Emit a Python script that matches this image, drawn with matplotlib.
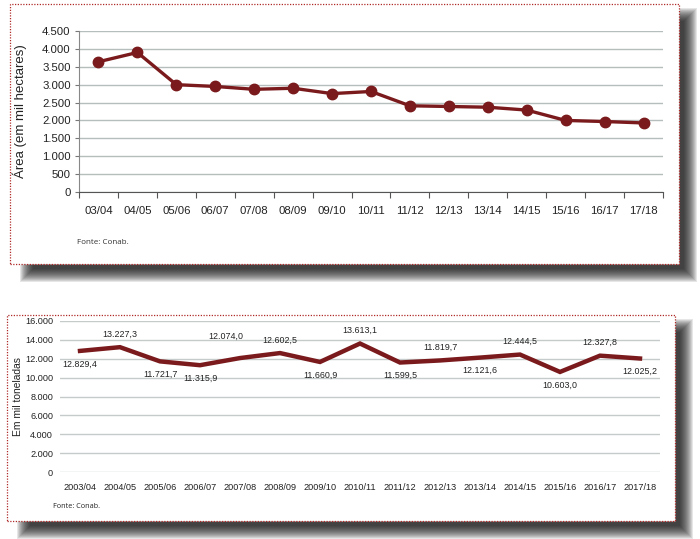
import matplotlib
matplotlib.use("Agg")
import matplotlib.pyplot as plt
from matplotlib.patches import Rectangle

plt.rcParams['font.family'] = ['Liberation Sans', 'DejaVu Sans']

# top chart: area
safras_area = ["03/04", "04/05", "05/06", "06/07", "07/08", "08/09", "09/10", "10/11",
               "11/12", "12/13", "13/14", "14/15", "15/16", "16/17", "17/18"]
area = [3640, 3900, 3000, 2950, 2870, 2900, 2750, 2810,
        2410, 2390, 2370, 2290, 2000, 1970, 1930]
area_ticks = [0, 500, 1000, 1500, 2000, 2500, 3000, 3500, 4000, 4500]

# bottom chart: production
safras_prod = ["2003/04", "2004/05", "2005/06", "2006/07", "2007/08", "2008/09", "2009/10",
               "2010/11", "2011/12", "2012/13", "2013/14", "2014/15", "2015/16", "2016/17",
               "2017/18"]
producao = [12829.4, 13227.3, 11721.7, 11315.9, 12074.0, 12602.5, 11660.9,
            13613.1, 11599.5, 11819.7, 12121.6, 12444.5, 10603.0, 12327.8, 12025.2]
prod_ticks = [0, 2000, 4000, 6000, 8000, 10000, 12000, 14000, 16000]
label_pos = ["below", "above", "below", "below", "above", "above", "below",
             "above", "below", "above", "below", "above", "below", "above", "below"]

LINE = "#7a1a1c"
W, H = 700, 539

fig = plt.figure(figsize=(7, 5.39), dpi=100)
fig.patch.set_facecolor("white")


def frac(x, y):
    # pixel (top-left origin) -> figure fraction
    return x / W, 1 - y / H


def rect(x0, y0, x1, y1):
    return [x0 / W, 1 - y1 / H, (x1 - x0) / W, (y1 - y0) / H]


def panel(x0, y0, x1, y1, off=11):
    # soft shadow: stacked translucent rects, offset down/right
    for e in range(7, -7, -1):
        sx0, sy0 = x0 + off - e + 6, y0 + off - e
        sx1, sy1 = x1 + off + e, y1 + off + e
        fig.patches.append(Rectangle((sx0 / W, 1 - sy1 / H), (sx1 - sx0) / W, (sy1 - sy0) / H,
                                     transform=fig.transFigure, facecolor="#111111",
                                     edgecolor="none", alpha=0.1, zorder=-5))
    fig.patches.append(Rectangle((x0 / W, 1 - y1 / H), (x1 - x0) / W, (y1 - y0) / H,
                                 transform=fig.transFigure, facecolor="white",
                                 edgecolor="#b02a2a", linestyle=(0, (1, 1.2)),
                                 linewidth=0.9, zorder=-4))


def thousands(v):
    return f"{v:,}".replace(",", ".")


def br_dec(v):
    return f"{v:,.1f}".replace(",", "X").replace(".", ",").replace("X", ".")


panel(10, 4, 679, 264)
panel(7, 315, 675, 521)

# ---------- top chart ----------
ax1 = fig.add_axes(rect(79, 31, 663, 192))
ax1.set_facecolor("none")
x1 = list(range(len(safras_area)))
ax1.plot(x1, area, color=LINE, lw=2.4, marker="o", ms=7.5, zorder=3)
ax1.set_xlim(-0.5, len(safras_area) - 0.5)
ax1.set_ylim(0, 4500)
ax1.set_yticks(area_ticks)
ax1.set_yticklabels([thousands(v) for v in area_ticks], fontsize=8.2, color="#222222")
ax1.set_xticks(x1)
ax1.set_xticklabels(safras_area, fontsize=8.2, color="#222222")
ax1.set_xticks([i - 0.5 for i in range(len(safras_area) + 1)], minor=True)
ax1.tick_params(axis="x", which="major", length=0, pad=10)
ax1.tick_params(axis="x", which="minor", length=4, color="#555555", width=0.8)
ax1.tick_params(axis="y", length=3, color="#777777", width=0.8, pad=3)
ax1.grid(axis="y", color="#b5bdbd", lw=1)
ax1.set_axisbelow(True)
for s in ["top", "right"]:
    ax1.spines[s].set_visible(False)
ax1.spines["left"].set_color("#888888")
ax1.spines["bottom"].set_color("#555555")
ax1.spines["bottom"].set_zorder(2.5)

fig.text(*frac(20, 111), "Área (em mil hectares)", rotation=90, fontsize=9.5,
         ha="center", va="center", color="#222222")
fig.text(*frac(77, 242), "Fonte: Conab.", fontsize=5.8, family="Open Sans",
         ha="left", va="center", color="#333333")

# ---------- bottom chart ----------
ax2 = fig.add_axes(rect(60, 321, 660, 472))
ax2.set_facecolor("none")
x2 = list(range(len(safras_prod)))
ax2.plot(x2, producao, color=LINE, lw=3.2, solid_joinstyle="miter", zorder=3)
ax2.set_xlim(-0.5, len(safras_prod) - 0.5)
ax2.set_ylim(0, 16000)
ax2.set_yticks(prod_ticks)
ax2.set_yticklabels([thousands(v) for v in prod_ticks], fontsize=6.6, color="#222222")
ax2.set_xticks(x2)
ax2.set_xticklabels(safras_prod, fontsize=6.6, color="#222222")
ax2.tick_params(axis="both", length=0)
ax2.tick_params(axis="x", pad=8)
ax2.tick_params(axis="y", pad=5)
ax2.grid(axis="y", color="#c5cbcb", lw=1)
ax2.set_axisbelow(True)
for s in ax2.spines.values():
    s.set_visible(False)

nudge = {4: (-10, 6)}
for i, (v, p) in enumerate(zip(producao, label_pos)):
    dx, dy = nudge.get(i, (0, 0))
    off = 9.5 if p == "above" else -9.5
    ax2.annotate(br_dec(v), (i, v), xytext=(dx, off + dy), textcoords="offset points",
                 ha="center", va="center", fontsize=6.4, color="#222222")

fig.text(*frac(18, 397), "Em mil toneladas", rotation=90, fontsize=7.4,
         ha="center", va="center", color="#222222")
fig.text(*frac(53, 507), "Fonte: Conab.", fontsize=5.2, family="Open Sans",
         ha="left", va="center", color="#222222")

fig.savefig("out.png", dpi=100)
